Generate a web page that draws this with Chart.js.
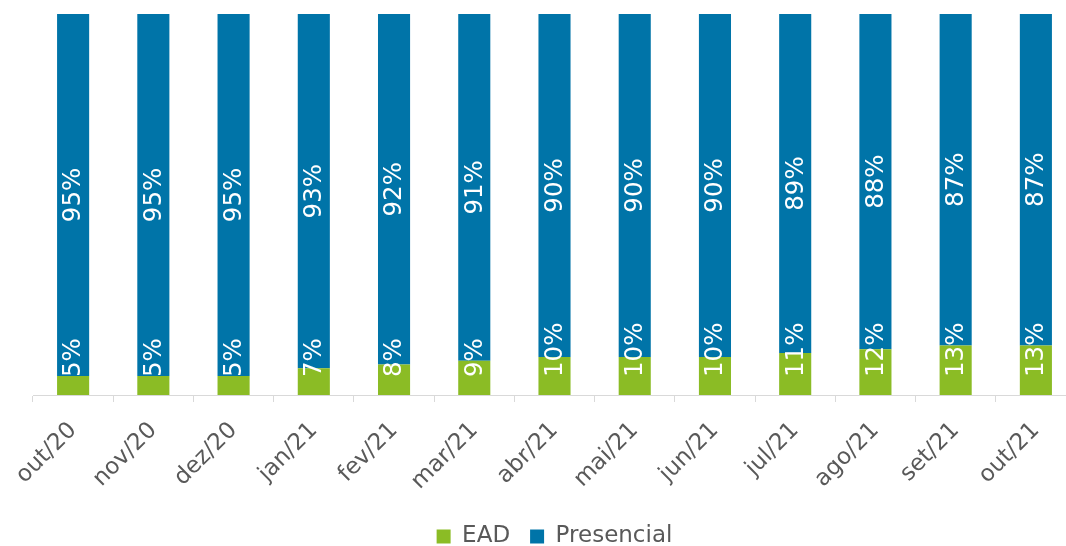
<!DOCTYPE html>
<html>
<head>
<meta charset="utf-8">
<script src="https://cdn.jsdelivr.net/npm/chart.js@4.4.1/dist/chart.umd.min.js"></script>
<style>
  html, body { margin: 0; padding: 0; overflow: hidden; background: #fff; }
  #wrap { width: 1102px; height: 546px; }
</style>
</head>
<body>
<div id="wrap"><canvas id="myChart"></canvas></div>
<script>
const labels = ['out/20', 'nov/20', 'dez/20', 'jan/21', 'fev/21', 'mar/21', 'abr/21', 'mai/21', 'jun/21', 'jul/21', 'ago/21', 'set/21', 'out/21'];
const eadValues = [5, 5, 5, 7, 8, 9, 10, 10, 10, 11, 12, 13, 13];
const presencialValues = [95, 95, 95, 93, 92, 91, 90, 90, 90, 89, 88, 87, 87];

const green = '#8bbc25';
const blue = '#0074a8';
const fontFamily = '"DejaVu Sans", Verdana, sans-serif';

// white rotated labels inside the bars
const barLabels = {
  id: 'barLabels',
  afterDatasetsDraw(chart) {
    const ctx = chart.ctx;
    const base = chart.scales.y.getPixelForValue(0);
    ctx.save();
    ctx.fillStyle = '#ffffff';
    ctx.font = '24.5px ' + fontFamily;
    ctx.textBaseline = 'middle';
    chart.data.datasets.forEach((ds, i) => {
      chart.getDatasetMeta(i).data.forEach((bar, j) => {
        const txt = ds.data[j] + '%';
        ctx.save();
        if (i === 0) {
          ctx.translate(bar.x + 1, base - 18);
          ctx.rotate(-Math.PI / 2);
          ctx.textAlign = 'left';
        } else {
          ctx.translate(bar.x + 1, (bar.y + bar.base) / 2);
          ctx.rotate(-Math.PI / 2);
          ctx.textAlign = 'center';
        }
        ctx.fillText(txt, 0, 0);
        ctx.restore();
      });
    });
    ctx.restore();
  }
};

const data = {
  labels: labels,
  datasets: [{
    label: 'EAD',
    data: eadValues,
    backgroundColor: green,
    barPercentage: 0.4,
    categoryPercentage: 1
  }, {
    label: 'Presencial',
    data: presencialValues,
    backgroundColor: blue,
    barPercentage: 0.4,
    categoryPercentage: 1
  }]
};

const config = {
  type: 'bar',
  data,
  plugins: [barLabels],
  options: {
    responsive: true,
    maintainAspectRatio: false,
    animation: false,
    layout: { padding: { top: 14, left: 33, right: 26, bottom: -12 } },
    plugins: {
      tooltip: { enabled: false },
      legend: {
        position: 'bottom',
        labels: {
          color: '#595959',
          font: { family: fontFamily, size: 23 },
          boxWidth: 14,
          boxHeight: 14,
          padding: 20
        }
      }
    },
    scales: {
      x: {
        stacked: true,
        afterFit: (scale) => { scale.height = 110; },
        grid: { offset: true, drawOnChartArea: false, tickLength: 7, color: '#d9d9d9' },
        border: { color: '#d9d9d9' },
        ticks: {
          color: '#595959',
          font: { family: fontFamily, size: 23 },
          minRotation: 45,
          maxRotation: 45,
          autoSkip: false,
          padding: 15
        }
      },
      y: {
        stacked: true,
        display: false,
        min: 0,
        max: 100
      }
    }
  }
};

var myChart = new Chart(document.getElementById('myChart').getContext('2d'), config);
</script>
</body>
</html>
